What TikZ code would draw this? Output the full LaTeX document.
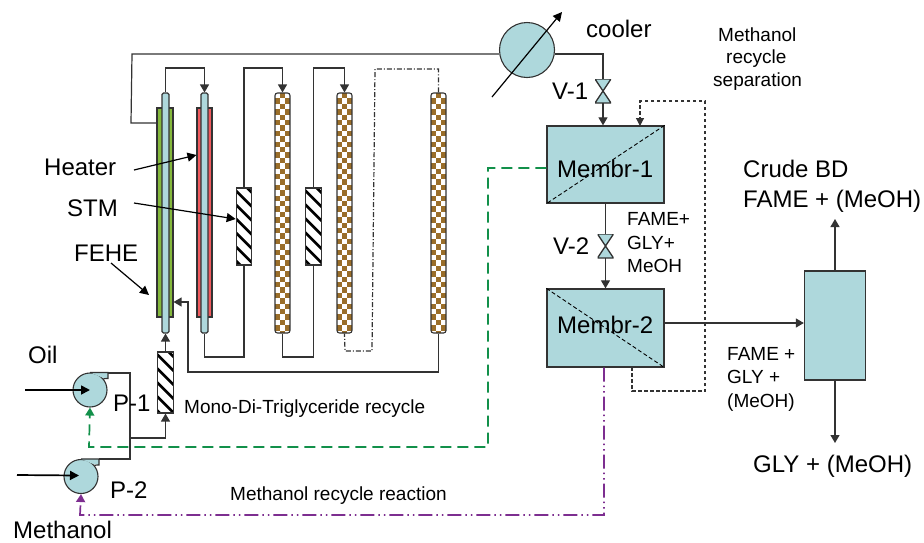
\documentclass[tikz,border=0pt]{standalone}
\usepackage{fontspec}
\setmainfont{Liberation Sans}
\usetikzlibrary{arrows.meta,calc}
\definecolor{tealf}{HTML}{AED8DC}
\definecolor{lineg}{HTML}{333333}
\definecolor{greenf}{HTML}{84B83C}
\definecolor{redf}{HTML}{F05A5E}
\definecolor{brownf}{HTML}{9A6E2A}
\definecolor{greenl}{HTML}{12904A}
\definecolor{purpl}{HTML}{7D2E90}
\tikzset{
  pipe/.style={draw=lineg,line width=1.2pt},
  arr/.style={pipe,-{Triangle[length=8pt,width=9pt]}},
  note/.style={draw=black,line width=1.2pt,-{Triangle[length=9pt,width=9pt]}},
  big/.style={inner sep=0pt,anchor=base west,font=\fontsize{24}{24}\selectfont},
  small/.style={inner sep=0pt,anchor=base west,font=\fontsize{19}{19}\selectfont},
  outer/.style n args={2}{draw=lineg,line width=1.1pt,inner sep=0pt,fill=#1,minimum width=#2,minimum height=209pt},
  innert/.style={draw=lineg,line width=1.1pt,inner sep=0pt,fill=tealf,rounded corners=1.5pt,minimum width=7pt,minimum height=240pt},
  checker/.style={draw=lineg,line width=1.1pt,inner sep=0pt,fill=white,rounded corners=2.5pt,minimum width=15pt,minimum height=240pt,
    path picture={
      \foreach \i in {0,...,45}{\foreach \j in {0,1,2}{
        \pgfmathtruncatemacro{\parityv}{mod(\i+\j,2)}
        \ifnum\parityv=0
          \fill[brownf,sharp corners] ([shift={(\j*5.2pt,-\i*5.4pt)}]path picture bounding box.north west) rectangle ++(5.2pt,5.4pt);
        \fi}}
    }},
  hatchbox/.style={draw=lineg,line width=1.1pt,inner sep=0pt,fill=white,minimum width=15.5pt,minimum height=#1,
    path picture={
      \foreach \i in {-2,...,6}{
        \draw[black,line width=2.6pt] ([shift={(-3pt,-\i*14pt)}]path picture bounding box.north west) -- ++(24pt,-24pt);}
    }},
  mem/.style={draw=lineg,line width=1.3pt,fill=tealf,inner sep=0pt,minimum width=117pt},
  pumpc/.style={circle,draw=lineg,line width=1.1pt,fill=tealf,inner sep=0pt,minimum size=34pt},
  valve/.style={inner sep=0pt,minimum width=16pt,minimum height=24pt,
    path picture={
      \coordinate (nw) at (path picture bounding box.north west);
      \coordinate (ne) at (path picture bounding box.north east);
      \coordinate (sw) at (path picture bounding box.south west);
      \coordinate (se) at (path picture bounding box.south east);
      \draw[draw=lineg,line width=1.3pt,fill=tealf] (nw) -- (ne) -- (sw) -- (se) -- cycle;
    }},
}
\begin{document}
\begin{tikzpicture}[x=1pt,y=-1pt]
\useasboundingbox (0,0) rectangle (924,542);
% reactors / exchangers
\node[outer={greenf}{16pt}] (o1) at (165,212.5) {};
\node[innert] (i1) at (165.5,213) {};
\node[outer={redf}{15pt}] (o2) at (204.5,212.5) {};
\node[innert] (i2) at (204.5,213) {};
\node[checker] (c1) at (282.5,213) {};
\node[checker] (c2) at (344.5,213) {};
\node[checker] (c3) at (438.5,213) {};
\node[hatchbox=77pt] (h1) at (244,226.5) {};
\node[hatchbox=77pt] (h2) at (313.5,226.5) {};
\node[hatchbox=61pt] (h3) at (165.5,382.5) {};
% cooler, valves, membranes
\node[circle,draw=lineg,line width=1.1pt,fill=tealf,inner sep=0pt,minimum size=55pt] (cool) at (527,50) {};
\coordinate (coolA) at (492,97);
\coordinate (coolB) at (562,12);
\node[valve] (v1) at (603,91) {};
\node[valve] (v2) at (605.5,246) {};
\node[mem,minimum height=77pt] (m1) at (605.5,164.5) {};
\node[mem,minimum height=78pt] (m2) at (605.5,328) {};
\node[draw=lineg,line width=1.3pt,fill=tealf,inner sep=0pt,minimum width=61pt,minimum height=109pt] (col) at (835,325.5) {};
% pumps
\node[pumpc] (p1) at (90,390) {};
\node[pumpc] (p2) at (81,476.5) {};
\fill[tealf] (p1.north) -- ++(18,0) -- ++(0,6) -- (p1.45) -- cycle;
\draw[pipe] (p1.north) -- ++(18,0) -- ++(0,6) -- (p1.40);
\fill[tealf] (p2.north) -- ++(18,0) -- ++(0,6) -- (p2.45) -- cycle;
\draw[pipe] (p2.north) -- ++(18,0) -- ++(0,6) -- (p2.40);
% coordinates for the free ends
\coordinate (oilIn) at (25,390);
\coordinate (meIn) at (17,475);
\coordinate (crude) at (835,219);
\coordinate (gly) at (835,443);
\coordinate (heatT) at (134,170);
\coordinate (stmT) at (134,203);
\coordinate (feheT) at (111,263);
\coordinate (feheH) at (149,295);
\coordinate (junc) at (131,438);
% main pipes
\draw[pipe] (o1.west |- 0,123) -- (131,123) -- (132,54) -- (cool.west |- 0,54);
\draw[pipe] (cool.east |- 0,54) -- (v1.north |- 0,54) -- (v1.north);
\draw[arr] (v1.south) -- (v1.south |- m1.north);
\draw[pipe] (m1.south -| v2.north) -- (v2.north);
\draw[arr] (v2.south) -- (v2.south |- m2.north);
\draw[arr] (m2.east |- 0,323) -- (col.west |- 0,323);
\draw[arr] (col.north) -- (crude);
\draw[arr] (col.south) -- (gly);
\draw[arr] (i1.north) -- (165.5,68) -| (i2.north);
\draw[arr] (h1.north) -- (h1.north |- 0,68) -| (c1.north);
\draw[arr] (h2.north) -- (h2.north |- 0,68) -| (c2.north);
\draw[pipe] (i2.south) -- (204.5,357) -| (h1.south);
\draw[pipe] (c1.south) -- (282.5,357) -| (h2.south);
\draw[arr] (c3.south) -- (438.5,372) -- (188,372) -- (188,302) -- (o1.east |- 0,302);
\draw[pipe,dash pattern=on 5pt off 2pt on 1pt off 2pt] (c3.north) -- (438.5,69) -- (375,69) -- (372,351) -- (345,351) -- (c2.south);
\draw[arr] (h3.north) -- (i1.south);
% pump pipes
\draw[pipe] (108,373) -- (130,373) -- (130,459) -- (99,459);
\draw[arr] (junc) -- (165.5,438) -- (h3.south);
\draw[black,line width=1.7pt,-{Triangle[length=9pt,width=9pt]}] (oilIn) -- (p1.center);
\draw[black,line width=1.7pt,-{Triangle[length=9pt,width=9pt]}] (meIn) -- ($(p2.center)+(-2,-1)$);
% recycles
\draw[greenl,line width=1.7pt,dash pattern=on 11pt off 6pt,-{Triangle[length=8pt,width=9pt]}] (m1.west |- 0,168) -- (488,168) -- (488,447) -- (89,447) -- (p1.south);
\draw[purpl,line width=1.7pt,dash pattern=on 14pt off 4pt on 1.5pt off 4pt on 1.5pt off 4pt,-{Triangle[length=8pt,width=9pt]}] (m2.south -| 604,0) -- (604,515) -- (80,515) -- (p2.south);
\draw[pipe,dash pattern=on 3.5pt off 2.5pt,-{Triangle[length=8pt,width=8pt]}] (632,367) -- (632,391) -- (705,391) -- (705,101) -- (640,101) -- (640,126);
% cooler stroke
\draw[note] (coolA) -- (coolB);
% diagonals
\draw[black,line width=0.9pt,dash pattern=on 4pt off 2.5pt] (m1.north east) -- (m1.south west);
\draw[black,line width=0.9pt,dash pattern=on 4pt off 2.5pt] (m2.north west) -- (m2.south east);
% annotations
\draw[note] (heatT) -- (o2.west |- 0,155);
\draw[note] (stmT) -- (h1.west |- 0,219);
\draw[note] (feheT) -- (feheH);
% texts
\node[big] (tCool) at (586,37) {cooler};
\node[big] (tV1) at (552,99) {V-1};
\node[big] (tV2) at (553,254) {V-2};
\node[big] (tM1) at (557,177) {Membr-1};
\node[big] (tM2) at (557,333) {Membr-2};
\node[big] (tHeat) at (44,175) {Heater};
\node[big] (tStm) at (67,216) {STM};
\node[big] (tFehe) at (74,261) {FEHE};
\node[big] (tOil) at (28,363) {Oil};
\node[big] (tP1) at (113,411) {P-1};
\node[big] (tP2) at (110,498) {P-2};
\node[big] (tMe) at (13,538) {Methanol};
\node[big] (tCr1) at (743,177) {Crude BD};
\node[big] (tCr2) at (743,207) {FAME + (MeOH)};
\node[big] (tGly) at (753,472) {GLY + (MeOH)};
\node[small] (tS1) at (718,41) {Methanol};
\node[small] (tS2) at (726,63) {recycle};
\node[small] (tS3) at (713,86) {separation};
\node[small] (tF1) at (627,225) {FAME+};
\node[small] (tF2) at (627,249) {GLY+};
\node[small] (tF3) at (627,272) {MeOH};
\node[small] (tG1) at (727,360) {FAME +};
\node[small] (tG2) at (727,383) {GLY +};
\node[small] (tG3) at (727,407) {(MeOH)};
\node[small] (tMono) at (184,413) {Mono-Di-Triglyceride recycle};
\node[small] (tRec) at (230,500) {Methanol recycle reaction};
\end{tikzpicture}
\end{document}
